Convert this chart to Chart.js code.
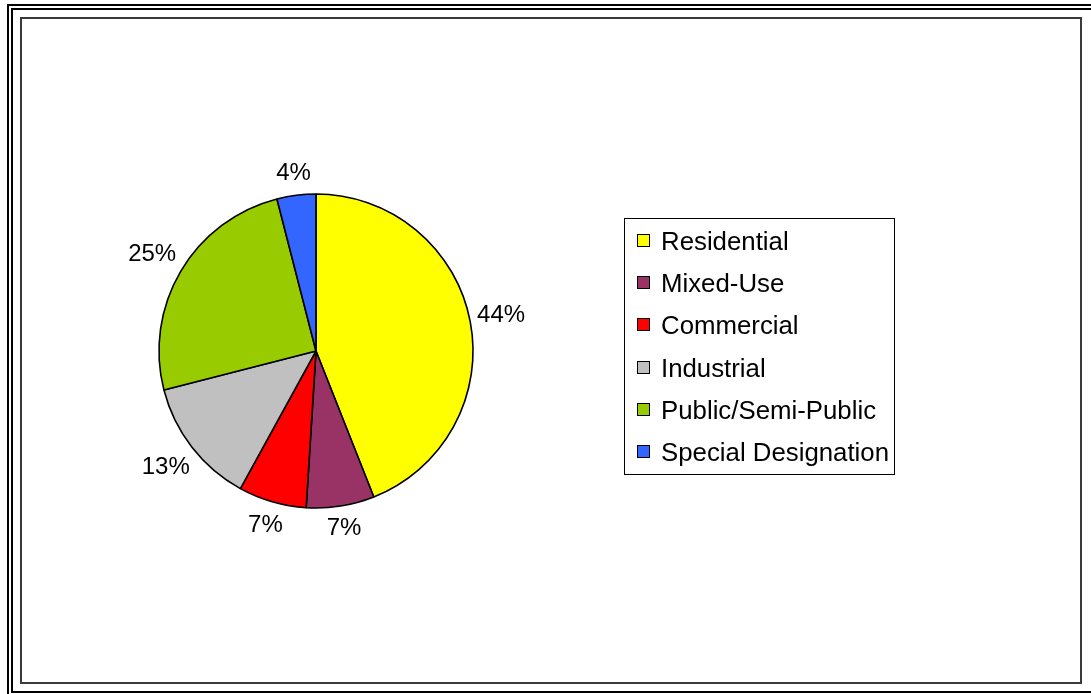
<!DOCTYPE html>
<html>
<head>
<meta charset="utf-8">
<title>Land Use</title>
<script src="https://cdn.jsdelivr.net/npm/chart.js@4.4.0/dist/chart.umd.min.js"></script>
<style>
    body { margin: 0; background: #fff; font-family: "Liberation Sans", Arial, sans-serif; overflow: hidden; }
    #page { position: relative; width: 1091px; height: 694px; overflow: hidden; background: #fff; }
    .frame { position: absolute; box-sizing: border-box; }
    /* double outer frame runs off the right and bottom edges */
    #outerA { left: 7px; top: 4px; width: 1200px; height: 800px; border: 2px solid #000; border-right: none; border-bottom: none; }
    #outerB { left: 11px; top: 8px; width: 1200px; height: 685px; border: 2px solid #000; border-right: none; }
    #inner { left: 20px; top: 17px; width: 1062px; height: 667px; border: 2px solid #3a3a3a; }
    #landUseChart { position: absolute; left: 0; top: 0; }
    #legend { position: absolute; left: 624px; top: 218px; width: 271px; height: 257px;
              box-sizing: border-box; border: 1px solid #000; padding-top: 1px; }
    .legend-row { position: relative; height: 42.2px; }
    .legend-swatch { position: absolute; left: 12px; top: 14px; width: 13px; height: 13px;
                     box-sizing: border-box; border: 1px solid #000; }
    .legend-text { position: absolute; left: 36px; top: 0; line-height: 42.2px;
                   font-size: 25.8px; color: #000; white-space: nowrap; }
</style>
</head>
<body>
<div id="page">
    <div class="frame" id="outerA"></div>
    <div class="frame" id="outerB"></div>
    <div class="frame" id="inner"></div>
    <canvas id="landUseChart" width="1091" height="694"></canvas>
    <div id="legend"></div>
</div>
<script>
const categories = ['Residential', 'Mixed-Use', 'Commercial', 'Industrial', 'Public/Semi-Public', 'Special Designation'];
const shares = [44, 7, 7, 13, 25, 4]; // percent of total land area
const sliceColors = ['#FFFF00', '#993366', '#FF0000', '#C0C0C0', '#99CC00', '#3366FF'];

// Legend box on the right
function buildLegend() {
    const legend = document.getElementById('legend');
    legend.innerHTML = '';
    categories.forEach((name, i) => {
        const row = document.createElement('div');
        row.className = 'legend-row';

        const swatch = document.createElement('span');
        swatch.className = 'legend-swatch';
        swatch.style.background = sliceColors[i];
        row.appendChild(swatch);

        const text = document.createElement('span');
        text.className = 'legend-text';
        text.textContent = name;
        row.appendChild(text);

        legend.appendChild(row);
    });
}

// Percent labels just outside each slice
const outsideLabels = {
    id: 'outsideLabels',
    afterDatasetsDraw(chart) {
        const ctx = chart.ctx;
        const arcs = chart.getDatasetMeta(0).data;
        const values = chart.data.datasets[0].data;
        ctx.save();
        ctx.font = '24px "Liberation Sans", Arial, sans-serif';
        ctx.fillStyle = '#000';
        ctx.textAlign = 'center';
        ctx.textBaseline = 'middle';
        arcs.forEach((arc, i) => {
            const { x, y, startAngle, endAngle, outerRadius } = arc.getProps(['x', 'y', 'startAngle', 'endAngle', 'outerRadius'], true);
            const mid = (startAngle + endAngle) / 2;
            const text = values[i] + '%';
            const halfW = ctx.measureText(text).width / 2;
            const halfH = 15;
            const cos = Math.cos(mid), sin = Math.sin(mid);
            // push the label box out until its edge clears the rim
            const r = outerRadius + 5 + Math.abs(cos) * halfW + Math.abs(sin) * halfH;
            ctx.fillText(text, x + cos * r, y + sin * r);
        });
        ctx.restore();
    }
};

const ctx = document.getElementById('landUseChart').getContext('2d');
new Chart(ctx, {
    type: 'pie',
    data: {
        labels: categories,
        datasets: [{
            data: shares,
            backgroundColor: sliceColors,
            borderColor: '#000',
            borderWidth: 1.6,
            radius: 157
        }]
    },
    options: {
        responsive: false,
        animation: false,
        layout: {
            padding: { left: 100, right: 559, top: 80, bottom: 72 }
        },
        plugins: {
            legend: { display: false },
            tooltip: { enabled: false }
        }
    },
    plugins: [outsideLabels]
});

buildLegend();
</script>
</body>
</html>
